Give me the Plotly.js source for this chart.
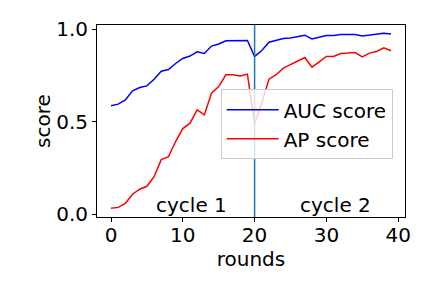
<!DOCTYPE html>
<html>
<head>
<meta charset="utf-8">
<script src="https://cdn.plot.ly/plotly-3.0.1.min.js"></script>
<style>html,body{margin:0;padding:0;background:#fff;}#chart{width:432px;height:288px;}</style>
</head>
<body>
<div id="chart"></div>
<script>
const rounds = Array.from({length: 40}, (_, i) => i);
const aucScore = [0.585, 0.594, 0.617, 0.666, 0.684, 0.693, 0.729, 0.772, 0.781, 0.814,
                  0.841, 0.854, 0.877, 0.868, 0.908, 0.919, 0.937, 0.937, 0.935, 0.938,
                  0.852, 0.884, 0.929, 0.938, 0.949, 0.952, 0.960, 0.967, 0.947, 0.955,
                  0.965, 0.965, 0.971, 0.971, 0.971, 0.963, 0.969, 0.973, 0.978, 0.974];
const apScore = [0.031, 0.036, 0.058, 0.107, 0.134, 0.150, 0.202, 0.294, 0.310, 0.392,
                 0.462, 0.491, 0.563, 0.536, 0.653, 0.689, 0.753, 0.753, 0.747, 0.756,
                 0.490, 0.600, 0.729, 0.753, 0.789, 0.807, 0.825, 0.846, 0.794, 0.823,
                 0.852, 0.852, 0.868, 0.870, 0.873, 0.850, 0.870, 0.879, 0.899, 0.883];
const cycleBoundary = 20;
const cycleLabels = ['cycle 1', 'cycle 2'];
const cycleLabelX = [6, 26];
const xTicks = [0, 10, 20, 30, 40];
const yTicks = [0.0, 0.5, 1.0];
const yTickText = ['0.0', '0.5', '1.0'];

const font = {family: 'DejaVu Sans', size: 20, color: '#000'};

const traces = [
  {x: rounds, y: aucScore, type: 'scatter', mode: 'lines', name: 'AUC score',
   line: {color: '#0000ff', width: 1.5}},
  {x: rounds, y: apScore, type: 'scatter', mode: 'lines', name: 'AP score',
   line: {color: '#ff0000', width: 1.5}}
];

const layout = {
  width: 432, height: 288,
  margin: {l: 97, r: 27, t: 25, b: 71, pad: 0},
  paper_bgcolor: '#fff', plot_bgcolor: '#fff',
  font: font,
  showlegend: true,
  legend: {x: 0.4016, y: 0.665, xanchor: 'left', yanchor: 'top',
           bgcolor: 'rgba(255,255,255,0.8)', bordercolor: '#cccccc', borderwidth: 1,
           font: font, itemwidth: 52},
  xaxis: {range: [-1.95, 40.95], tickvals: xTicks, ticks: 'outside', ticklen: 4, tickwidth: 1,
          tickcolor: '#000', showline: true, linecolor: '#000', linewidth: 1, mirror: true,
          showgrid: false, zeroline: false, tickfont: font, ticklabelstandoff: -4,
          title: {text: 'rounds', font: font, standoff: 0}},
  yaxis: {range: [-0.016, 1.022], tickvals: yTicks, ticktext: yTickText, ticks: 'outside', ticklen: 4, tickwidth: 1,
          tickcolor: '#000', showline: true, linecolor: '#000', linewidth: 1, mirror: true,
          showgrid: false, zeroline: false, tickfont: font,
          title: {text: 'score', font: font, standoff: 0}},
  shapes: [{type: 'line', xref: 'x', yref: 'paper', x0: cycleBoundary, x1: cycleBoundary, y0: 0, y1: 1,
            line: {color: '#1f77b4', width: 1.5}}],
  annotations: cycleLabels.map((t, i) => ({
    x: cycleLabelX[i], y: 0, xref: 'x', yref: 'y', text: t, showarrow: false,
    xanchor: 'left', yanchor: 'bottom', yshift: -5, font: font
  }))
};

Plotly.newPlot('chart', traces, layout, {displayModeBar: false, staticPlot: true});
</script>
</body>
</html>
